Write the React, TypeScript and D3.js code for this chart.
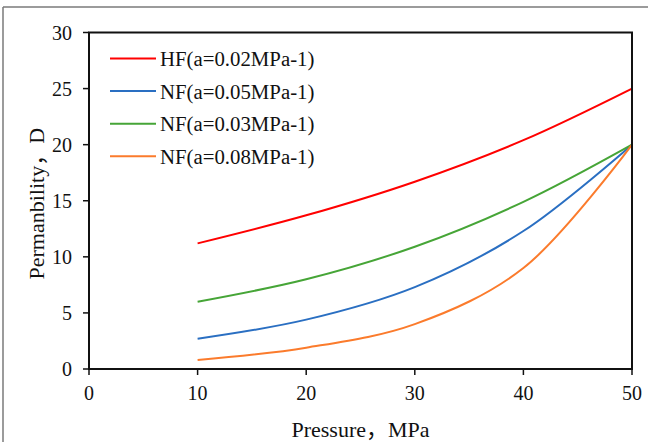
import React from "react";
import * as d3 from "d3";

// Pressure samples (MPa)
const pressure = [10, 20, 30, 40, 50];

// Permeability (D) for each fracture case
const hfA002 = [11.2, 13.7, 16.7, 20.4, 25.0];
const nfA005 = [2.7, 4.4, 7.3, 12.3, 20.0];
const nfA003 = [6.0, 8.0, 10.9, 14.9, 20.0];
const nfA008 = [0.8, 1.9, 4.0, 9.0, 20.0];

const seriesNames = [
  "HF(a=0.02MPa-1)",
  "NF(a=0.05MPa-1)",
  "NF(a=0.03MPa-1)",
  "NF(a=0.08MPa-1)",
];
const seriesValues = [hfA002, nfA005, nfA003, nfA008];
const seriesColors = ["#ff0000", "#2a6fc2", "#46a537", "#fb7b2c"];

const xTicks = [0, 10, 20, 30, 40, 50];
const yTicks = [0, 5, 10, 15, 20, 25, 30];

const W = 648;
const H = 442;
const left = 89;
const right = 632;
const top = 32.5;
const bottom = 369;

const FONT = "'Liberation Serif', 'Noto Sans CJK SC', 'Times New Roman', serif";

export default function App() {
  const x = d3.scaleLinear().domain([0, 50]).range([left, right]);
  const y = d3.scaleLinear().domain([0, 30]).range([bottom, top]);

  const line = d3
    .line<number>()
    .x((_, i) => x(pressure[i]))
    .y((d) => y(d))
    .curve(d3.curveCatmullRom.alpha(0.5));

  return (
    <svg
      width={W}
      height={H}
      style={{ position: "absolute", left: 0, top: 0, background: "#fff" }}
      fontFamily={FONT}
    >
      {/* outer frame */}
      <line x1={3} y1={7} x2={W} y2={7} stroke="#7a7a7a" strokeWidth={1.5} />
      <line x1={3} y1={7} x2={3} y2={H} stroke="#7a7a7a" strokeWidth={1.5} />

      {/* series */}
      {seriesValues.map((vals, i) => (
        <path
          key={seriesNames[i]}
          d={line(vals) || ""}
          fill="none"
          stroke={seriesColors[i]}
          strokeWidth={2}
        />
      ))}

      {/* plot box */}
      <rect
        x={left}
        y={top}
        width={right - left}
        height={bottom - top}
        fill="none"
        stroke="#111"
        strokeWidth={2}
      />

      {/* y ticks */}
      {yTicks.map((t) => (
        <g key={"y" + t}>
          <line x1={left - 6} x2={left} y1={y(t)} y2={y(t)} stroke="#111" strokeWidth={1.5} />
          <text
            x={left - 17}
            y={y(t)}
            textAnchor="end"
            dominantBaseline="central"
            fontSize={20}
            fill="#111"
          >
            {t}
          </text>
        </g>
      ))}

      {/* x ticks */}
      {xTicks.map((t) => (
        <g key={"x" + t}>
          <line x1={x(t)} x2={x(t)} y1={bottom} y2={bottom + 6} stroke="#111" strokeWidth={1.5} />
          <text
            x={x(t)}
            y={bottom + 24}
            textAnchor="middle"
            dominantBaseline="central"
            fontSize={20}
            fill="#111"
          >
            {t}
          </text>
        </g>
      ))}

      {/* axis titles */}
      <text
        x={(left + right) / 2}
        y={437}
        textAnchor="middle"
        fontSize={22}
        fill="#111"
      >
        Pressure，MPa
      </text>
      <text
        transform={`translate(36, ${(top + bottom) / 2 + 3}) rotate(-90)`}
        textAnchor="middle"
        dominantBaseline="central"
        fontSize={22}
        fill="#111"
      >
        Permanbility，D
      </text>

      {/* legend */}
      {seriesNames.map((name, i) => {
        const ly = 58.5 + i * 32.6;
        return (
          <g key={"lg" + i}>
            <line x1={110} x2={156} y1={ly} y2={ly} stroke={seriesColors[i]} strokeWidth={2} />
            <text x={160} y={ly} dominantBaseline="central" fontSize={20.8} fill="#111">
              {name}
            </text>
          </g>
        );
      })}
    </svg>
  );
}
